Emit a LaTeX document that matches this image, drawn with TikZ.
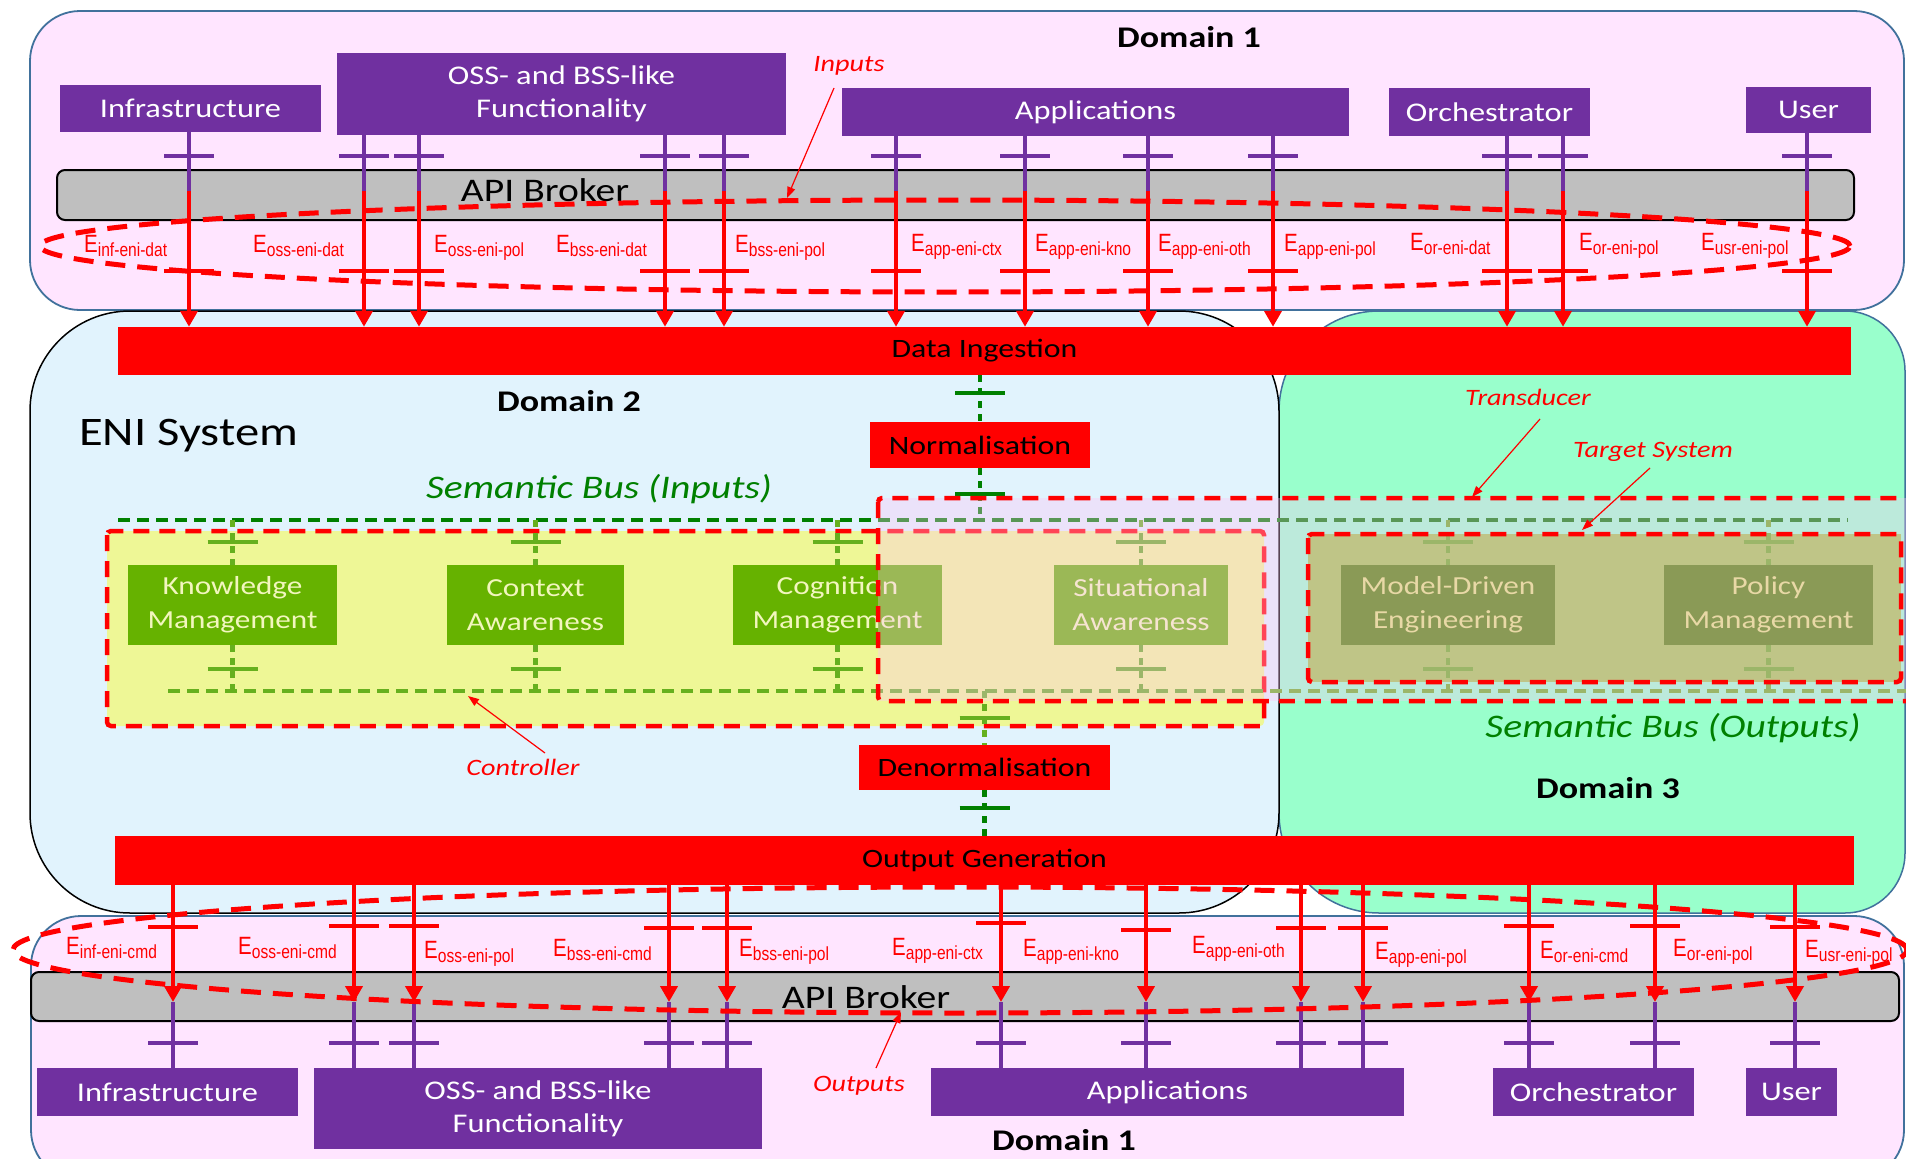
\documentclass[tikz,border=0pt]{standalone}
\usepackage{fontspec}
\setmainfont[FakeStretch=1.2]{Carlito}
\newfontfamily\lblfont[FakeStretch=0.82]{Liberation Sans}
\usetikzlibrary{arrows.meta}

\definecolor{dompink}{RGB}{255,229,255}
\definecolor{domblue}{RGB}{225,243,253}
\definecolor{dommint}{RGB}{153,255,204}
\definecolor{domedge}{RGB}{65,113,156}
\definecolor{eniPurple}{RGB}{112,48,160}
\definecolor{brokerGrey}{RGB}{191,191,191}
\definecolor{busDark}{RGB}{0,128,0}
\definecolor{busLight}{RGB}{102,176,30}
\definecolor{fnGreen}{RGB}{102,178,0}
\definecolor{fnText}{RGB}{242,246,190}
\definecolor{ctrlYellow}{RGB}{238,247,150}
\definecolor{tgtFill}{RGB}{158,198,75}
\definecolor{tgtBox}{RGB}{76,132,0}
\definecolor{tgtText}{RGB}{221,228,123}
\definecolor{transPink}{RGB}{255,196,247}

\newcommand\fsBox{\fontsize{27}{33}\selectfont}
\newcommand\fsFn{\fontsize{26}{34}\selectfont}
\newcommand\fsDom{\bfseries\fontsize{30}{36}\selectfont}
\newcommand\fsAPI{\fontsize{33}{40}\selectfont}
\newcommand\fsENI{\fontsize{40.5}{46}\selectfont}
\newcommand\fsBus{\itshape\fontsize{33}{38}\selectfont}
\newcommand\fsNote{\itshape\fontsize{23.5}{28}\selectfont}
\newcommand\fsBar{\fontsize{26.5}{32}\selectfont}
\newcommand\elab[1]{{\lblfont\fontsize{25}{28}\selectfont E\raisebox{-4pt}{\fontsize{19}{22}\selectfont #1}}}

\begin{document}
\begin{tikzpicture}[x=1pt,y=-1pt,
  pbox/.style={fill=eniPurple,text=white,font=\fsBox,inner sep=0pt,align=center},
  rbar/.style={fill=red,text=black,inner sep=0pt,align=center,font=\fsBar},
  fnbox/.style={fill=fnGreen,text=fnText,font=\fsFn,inner sep=0pt,align=center,minimum height=80pt},
  broker/.style={fill=brokerGrey,draw=black,line width=2pt,rounded corners=8pt,inner sep=0pt},
  pline/.style={draw=eniPurple,line width=4.5pt},
  rline/.style={draw=red,line width=4.5pt},
  rarrow/.style={rline,-{Triangle[width=17pt,length=16pt]}},
  gdot/.style={draw=busDark,line width=4.5pt,dash pattern=on 7pt off 6pt},
  ldot/.style={draw=busLight,line width=4.5pt,dash pattern=on 7pt off 6pt},
  gtick/.style={draw=busDark,line width=4pt},
  ltick/.style={draw=busLight,line width=4pt},
  redloop/.style={draw=red,line width=5pt,dash pattern=on 20pt off 12pt},
  redframe/.style={draw=red,line width=4.5pt,dash pattern=on 16pt off 10pt,rounded corners=4pt},
  note/.style={text=red,font=\fsNote,inner sep=0pt},
  notearrow/.style={draw=red,line width=1.2pt,-{Triangle[width=8pt,length=11pt]}},
  elabel/.style={text=red,anchor=base west,inner sep=0pt},
  domlabel/.style={font=\fsDom,text=black,inner sep=0pt},
]
\useasboundingbox (0,0) rectangle (1906,1159);

% ---------- domains ----------
\draw[fill=dompink,draw=domedge,line width=1.8pt,rounded corners=50pt] (30,11) rectangle (1904,310);
\draw[fill=dompink,draw=domedge,line width=1.8pt,rounded corners=50pt] (31,916) rectangle (1904,1180);
\draw[fill=dommint,draw=domedge,line width=1.5pt]
  (1279,813) -- (1279,411) arc(180:90:100pt) -- (1845,311) arc(90:0:60pt)
  -- (1905,853) arc(0:-90:60pt) -- (1379,913) arc(-90:-180:100pt) -- cycle;
\draw[fill=domblue,draw=black,line width=1.5pt,rounded corners=100pt] (30,311) rectangle (1279,913);

\node[domlabel] (dom1top) at (1189,37) {Domain 1};
\node[domlabel] (dom1bot) at (1064,1140) {Domain 1};
\node[domlabel] (dom2) at (569,401) {Domain 2};
\node[domlabel] (dom3) at (1608,788) {Domain 3};
\node[font=\fsENI,anchor=base west,inner sep=0pt] (eni) at (79,445) {ENI System};

% ---------- controller / target frames (fills) ----------
\draw[redframe,fill=ctrlYellow] (107,531) rectangle (1264,726);
\fill[tgtFill] (1308,534) rectangle (1901,682);

% ---------- semantic buses ----------
\coordinate (busInL) at (118,520);
\coordinate (busInR) at (1848,520);
\coordinate (busOutL) at (168,691);
\coordinate (busOutR) at (1915,691);
\draw[draw=busDark,line width=4pt,dash pattern=on 12pt off 7pt] (busInL) -- (busInR);
\draw[draw=busLight,line width=4pt,dash pattern=on 12pt off 7pt] (busOutL) -- (busOutR);

% ---------- ingestion / output bars ----------
\node[rbar,minimum width=1733pt,minimum height=48pt] (ingest) at (984.5,351) {Data Ingestion};
\node[rbar,minimum width=1739pt,minimum height=49pt] (outgen) at (984.5,860.5) {Output Generation};
\node[rbar,minimum width=220pt,minimum height=46pt] (norm) at (980,445) {Normalisation};
\node[rbar,minimum width=251pt,minimum height=45pt] (denorm) at (984.5,767.5) {Denormalisation};

\draw[gdot] (ingest.south -| norm.north) -- (norm.north);
\draw[gtick] ([xshift=-25pt,yshift=29pt]norm.north) -- ([xshift=25pt,yshift=29pt]norm.north);
\draw[gdot] (norm.south) -- (norm.south |- busInL);
\draw[gtick] ([xshift=-25pt,yshift=-26pt]norm.south) -- ([xshift=25pt,yshift=-26pt]norm.south);
\draw[ldot] (denorm.north |- busOutL) -- (denorm.north);
\draw[ltick] ([xshift=-25pt,yshift=27pt]denorm.north) -- ([xshift=25pt,yshift=27pt]denorm.north);
\draw[gdot] (denorm.south) -- (denorm.south |- outgen.north);
\draw[gtick] ([xshift=-25pt,yshift=-18pt]denorm.south) -- ([xshift=25pt,yshift=-18pt]denorm.south);

% ---------- functional blocks ----------
\node[fnbox,minimum width=209pt] (km) at (232.5,605) {Knowledge\\Management};
\node[fnbox,minimum width=177pt] (ca) at (535.5,605) {Context\\Awareness};
\node[fnbox,minimum width=209pt] (cm) at (837.5,605) {Cognition\\Management};
\node[fnbox,minimum width=174pt] (sa) at (1141,605) {Situational\\Awareness};
\node[fnbox,fill=tgtBox,text=tgtText,minimum width=214pt] (md) at (1448,605) {Model-Driven\\Engineering};
\node[fnbox,fill=tgtBox,text=tgtText,minimum width=209pt] (pm) at (1768.5,605) {Policy\\Management};

\foreach \n in {km,ca,cm,sa,md,pm}{
  \draw[ldot] (\n.north |- busInL) -- (\n.north);
  \draw[ltick] ([xshift=-25pt,yshift=23pt]\n.north) -- ([xshift=25pt,yshift=23pt]\n.north);
  \draw[ldot] (\n.south) -- (\n.south |- busOutL);
  \draw[ltick] ([xshift=-25pt,yshift=-24pt]\n.south) -- ([xshift=25pt,yshift=-24pt]\n.south);
}

% ---------- transducer overlay and frames ----------
\fill[transPink,fill opacity=0.35] (878,498) rectangle (1930,701);
\draw[redframe] (878,498) rectangle (1930,701);
\draw[redframe] (1308,534) rectangle (1901,682);

% ---------- bus labels and notes ----------
\node[font=\fsBus,text=busDark,inner sep=0pt] (sbin) at (599,489) {Semantic Bus (Inputs)};
\node[font=\fsBus,text=busDark,inner sep=0pt] (sbout) at (1673,728) {Semantic Bus (Outputs)};

\node[note] (ctrlLbl) at (523,767) {Controller};
\coordinate (ctrlA) at (545,753);
\coordinate (ctrlB) at (468,696);
\draw[notearrow] (ctrlA) -- (ctrlB);

\node[note] (transLbl) at (1528,397) {Transducer};
\coordinate (transA) at (1540,419);
\coordinate (transB) at (1472,497);
\draw[notearrow] (transA) -- (transB);

\node[note] (tgtLbl) at (1653,452) {Target System};
\coordinate (tgtA) at (1650,468);
\coordinate (tgtB) at (1582,530);
\draw[notearrow] (tgtA) -- (tgtB);

% ---------- upper external layer ----------
\node[pbox,minimum width=261pt,minimum height=47pt] (infT) at (190.5,108.5) {Infrastructure};
\node[pbox,minimum width=449pt,minimum height=82pt] (ossT) at (561.5,94) {OSS- and BSS-like\\Functionality};
\node[pbox,minimum width=507pt,minimum height=48pt] (appT) at (1095.5,112) {Applications};
\node[pbox,minimum width=201pt,minimum height=48pt] (orchT) at (1489.5,112) {Orchestrator};
\node[pbox,minimum width=125pt,minimum height=46pt] (usrT) at (1808.5,110) {User};

\node[broker,minimum width=1797pt,minimum height=50pt] (brokerT) at (955.5,195) {};
\node[font=\fsAPI,inner sep=0pt] (brokerTtxt) at (545,190) {API Broker};

\foreach \x/\s in {189/infT,364/ossT,419/ossT,665/ossT,724/ossT,896/appT,1025/appT,1148/appT,1273/appT,1507/orchT,1563/orchT,1807/usrT}{
  \coordinate (tj\x) at (\x,191);
  \draw[pline] (\s.south -| tj\x) -- (tj\x);
  \draw[pline] (\x-25,156) -- (\x+25,156);
  \draw[rarrow] (tj\x) -- (ingest.north -| tj\x);
  \draw[rline] (\x-25,271) -- (\x+25,271);
}

\draw[redloop] (945,246) ellipse [x radius=905pt, y radius=46pt];

\foreach \x/\y/\lab [count=\i] in {84/252/inf-eni-dat,253/252/oss-eni-dat,434/252/oss-eni-pol,556/252/bss-eni-dat,735/252/bss-eni-pol,911/251/app-eni-ctx,1035/251/app-eni-kno,1158/251/app-eni-oth,1284/251/app-eni-pol,1410/250/or-eni-dat,1579/250/or-eni-pol,1701/250/usr-eni-pol}{
  \node[elabel] (et\i) at (\x,\y) {\elab{\lab}};
}

\node[note] (inLbl) at (849,66) {Inputs};
\coordinate (inA) at (834,88);
\coordinate (inB) at (787,198);
\draw[notearrow] (inA) -- (inB);

% ---------- lower external layer ----------
\node[broker,minimum width=1868pt,minimum height=49pt] (brokerB) at (965,996.5) {};
\node[font=\fsAPI,inner sep=0pt] (brokerBtxt) at (866,997) {API Broker};

\node[pbox,minimum width=261pt,minimum height=48pt] (infB) at (167.5,1092) {Infrastructure};
\node[pbox,minimum width=448pt,minimum height=81pt] (ossB) at (538,1108.5) {OSS- and BSS-like\\Functionality};
\node[pbox,minimum width=473pt,minimum height=48pt] (appB) at (1167.5,1092) {Applications};
\node[pbox,minimum width=201pt,minimum height=48pt] (orchB) at (1593.5,1092) {Orchestrator};
\node[pbox,minimum width=91pt,minimum height=48pt] (usrB) at (1791.5,1092) {User};

\foreach \x/\s/\ty in {173/infB/927,354/ossB/926,414/ossB/926,669/ossB/928,727/ossB/928,1001/appB/923,1146/appB/930,1301/appB/928,1363/appB/928,1529/orchB/926,1655/orchB/926,1795/usrB/927}{
  \coordinate (bj\x) at (\x,1002);
  \draw[rarrow] (outgen.south -| bj\x) -- (bj\x);
  \draw[rline] (\x-25,\ty) -- (\x+25,\ty);
  \draw[pline] (bj\x) -- (\s.north -| bj\x);
  \draw[pline] (\x-25,1043) -- (\x+25,1043);
}

\draw[redloop] (960,950) ellipse [x radius=947pt, y radius=63pt];

\foreach \x/\y/\lab [count=\i] in {66/954/inf-eni-cmd,238/954/oss-eni-cmd,424/958/oss-eni-pol,553/956/bss-eni-cmd,739/956/bss-eni-pol,892/955/app-eni-ctx,1023/956/app-eni-kno,1192/953/app-eni-oth,1375/959/app-eni-pol,1540/958/or-eni-cmd,1673/956/or-eni-pol,1805/957/usr-eni-pol}{
  \node[elabel] (eb\i) at (\x,\y) {\elab{\lab}};
}

\node[note] (outLbl) at (859,1086) {Outputs};
\coordinate (outA) at (876,1068);
\coordinate (outB) at (901,1012);
\draw[notearrow] (outA) -- (outB);

\end{tikzpicture}
\end{document}
